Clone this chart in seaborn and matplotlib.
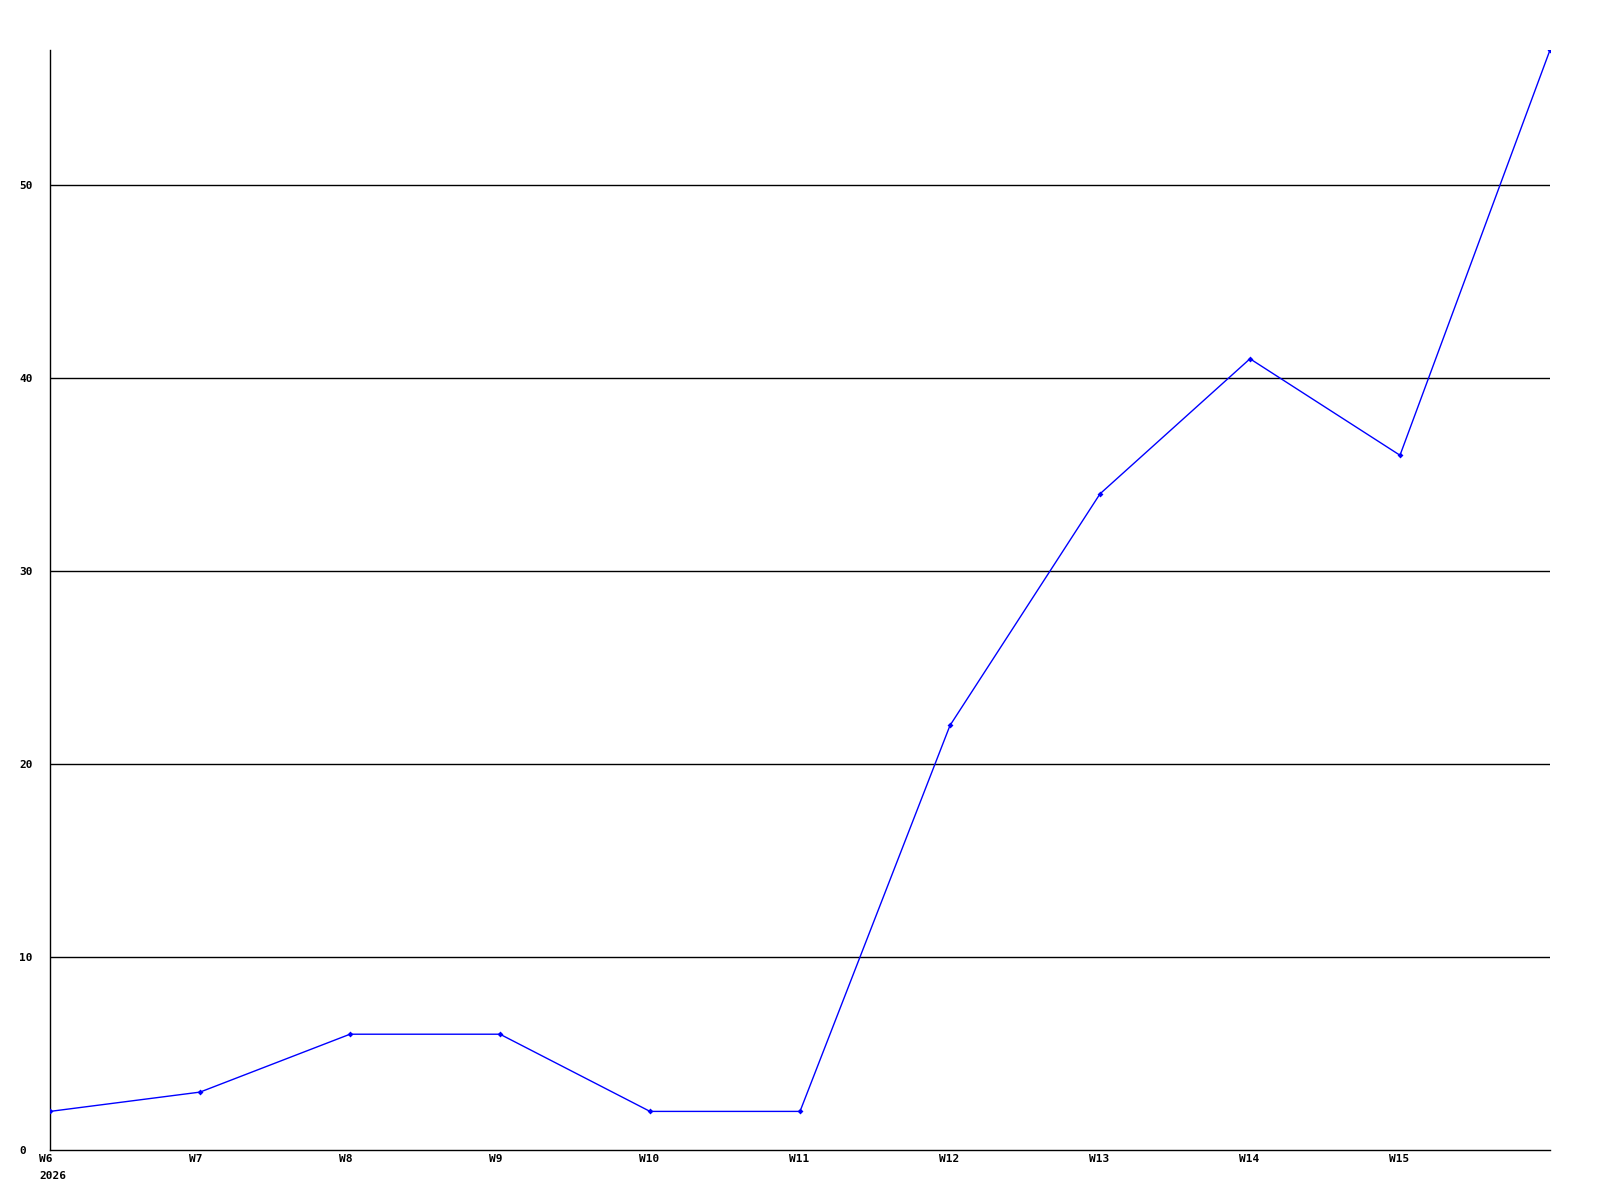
import numpy as np
import pandas as pd
import matplotlib
matplotlib.use("Agg")
import matplotlib.pyplot as plt
from matplotlib.transforms import ScaledTranslation
import seaborn as sns

# weekly counts
WEEKS  = ["W6\n2026", "W7", "W8", "W9", "W10", "W11", "W12", "W13", "W14", "W15", ""]
COUNTS = [2, 3, 6, 6, 2, 2, 22, 34, 41, 36, 57]
Y_TICKS = [0, 10, 20, 30, 40, 50]


def main():
    sns.set_theme(style="white")
    plt.rcParams["font.family"] = ["DejaVu Sans Mono", "DejaVu Sans"]

    df = pd.DataFrame({"idx": np.arange(len(COUNTS)), "count": COUNTS})

    fig = plt.figure(figsize=(16, 12), dpi=100)
    ax = fig.add_axes([50 / 1600, 50 / 1200, 1500 / 1600, 1100 / 1200])

    for y in Y_TICKS[1:]:
        ax.axhline(y, color="black", lw=1, zorder=1)

    sns.lineplot(data=df, x="idx", y="count", color="#0000ff", lw=1,
                 marker="D", markersize=3, markeredgewidth=0, ax=ax, zorder=3)

    ax.set_xlim(0, len(COUNTS) - 1)
    ax.set_ylim(0, 57)
    ax.set_xticks(df["idx"])
    ax.set_xticklabels(WEEKS, fontsize=8, fontweight="bold", linespacing=1.9,
                       color="black")
    ax.set_yticks(Y_TICKS)
    ax.set_yticklabels([str(v) for v in Y_TICKS], fontsize=8, fontweight="bold",
                       color="black")
    ax.set_xlabel("")
    ax.set_ylabel("")

    ax.tick_params(axis="both", length=0)
    ax.tick_params(axis="x", pad=3)
    ax.tick_params(axis="y", pad=22)
    off = ScaledTranslation(-11 / 100, 0, fig.dpi_scale_trans)
    for lab in ax.get_xticklabels():
        lab.set_ha("left")
        lab.set_va("top")
        lab.set_transform(lab.get_transform() + off)
    for lab in ax.get_yticklabels():
        lab.set_ha("left")

    for side in ["top", "right"]:
        ax.spines[side].set_visible(False)
    for side in ["left", "bottom"]:
        ax.spines[side].set_color("black")
        ax.spines[side].set_linewidth(1)
    ax.grid(False)

    fig.savefig("out.png", dpi=100, facecolor="white")
    plt.close(fig)


if __name__ == "__main__":
    main()
